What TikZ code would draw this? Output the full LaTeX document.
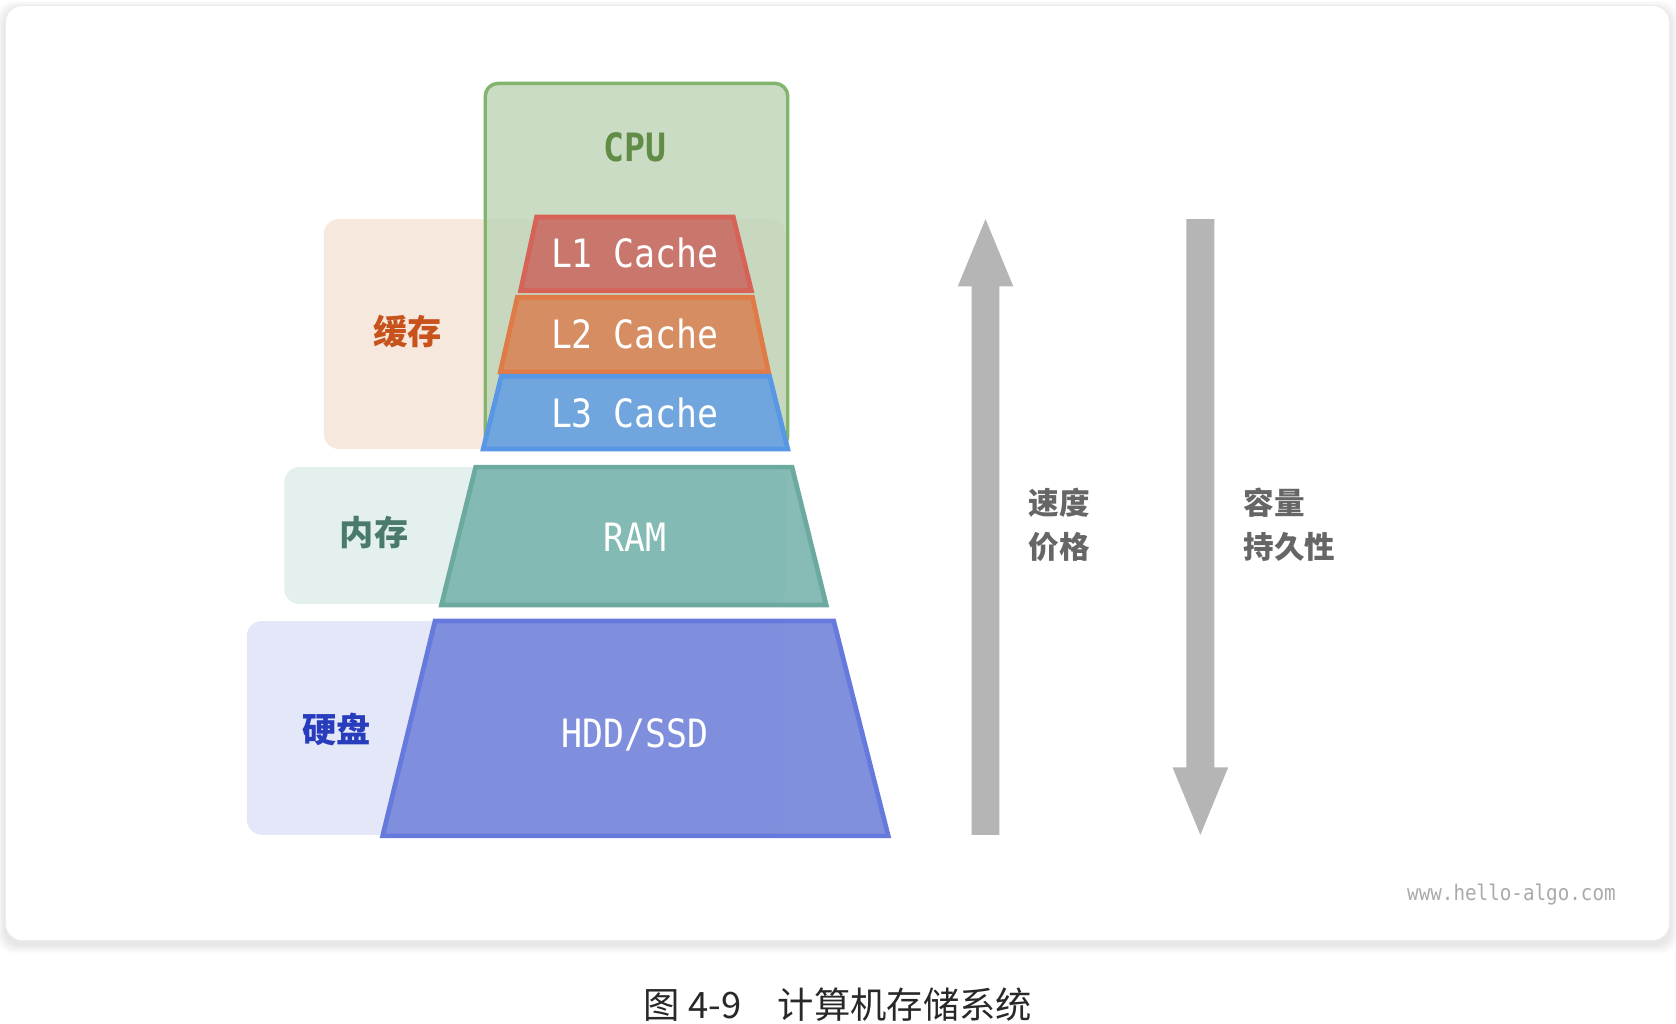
\documentclass[tikz,border=0pt]{standalone}
\usepackage{fontspec}
\newfontfamily\cjk{Noto Sans CJK SC}
\newfontfamily\monof{DejaVu Sans Mono}
\definecolor{cpufill}{RGB}{193,214,186}
\definecolor{cpuline}{RGB}{130,180,108}
\definecolor{cputext}{RGB}{96,140,70}
\definecolor{peach}{RGB}{246,232,221}
\definecolor{tealbg}{RGB}{227,240,238}
\definecolor{lavbg}{RGB}{228,231,247}
\definecolor{lAfill}{RGB}{201,118,108}
\definecolor{lAline}{RGB}{214,98,88}
\definecolor{lBfill}{RGB}{214,141,98}
\definecolor{lBline}{RGB}{224,122,70}
\definecolor{lCfill}{RGB}{112,166,221}
\definecolor{lCline}{RGB}{88,150,230}
\definecolor{ramfill}{RGB}{124,182,176}
\definecolor{ramline}{RGB}{108,170,160}
\definecolor{hddfill}{RGB}{119,135,219}
\definecolor{hddline}{RGB}{102,122,222}
\definecolor{cachetext}{RGB}{200,82,28}
\definecolor{memtext}{RGB}{74,122,110}
\definecolor{disktext}{RGB}{40,60,190}
\definecolor{graytext}{RGB}{102,102,102}
\definecolor{arrowgray}{RGB}{181,181,181}
\definecolor{marktext}{RGB}{170,170,170}
\definecolor{captext}{RGB}{40,40,40}
\definecolor{cardline}{RGB}{236,236,236}
\newcommand{\tallt}[1]{\scalebox{1}[1.12]{#1}}
\tikzset{
  trap/.style={line width=2.2pt, line join=miter},
  monolabel/.style={font=\monof\fontsize{16.3}{18}\selectfont, text=white, inner sep=0pt},
  cjklabel/.style={font=\cjk\bfseries\fontsize{16}{18}\selectfont, inner sep=0pt},
  sidelabel/.style={font=\cjk\bfseries\fontsize{14.3}{16}\selectfont, text=graytext, inner sep=0pt, anchor=west},
  bgbox/.style={rounded corners=7pt},
}
\begin{document}
\begin{tikzpicture}[x=0.5pt,y=-0.5pt]
\useasboundingbox (0,0) rectangle (1568,958);
% card shadow
\foreach \i in {1,...,8}
  \fill[black,opacity=0.012,rounded corners=8pt] (5-\i,5-\i+4) rectangle (1562+\i,880+\i+4);
\fill[white,draw=cardline,line width=0.5pt,rounded corners=8pt] (5,5) rectangle (1562,880);
% background group boxes
\fill[peach,bgbox] (303,205) rectangle (735,420);
\fill[tealbg,bgbox] (266,437) rectangle (735,565);
\fill[lavbg,bgbox] (231,581) rectangle (735,781);
% CPU box
\filldraw[fill=cpufill,fill opacity=0.85,draw=cpuline,line width=1.6pt,rounded corners=6pt] (454,78) rectangle (737,420);
% trapezoids
\filldraw[trap,fill=lAfill,draw=lAline] (502,203) -- (686,203) -- (703,272) -- (487,272) -- cycle;
\filldraw[trap,fill=lBfill,draw=lBline] (484,278) -- (704,278) -- (719,348) -- (468,348) -- cycle;
\filldraw[trap,fill=lCfill,draw=lCline] (469,352) -- (720,352) -- (737,420) -- (452,420) -- cycle;
\filldraw[trap,fill=ramfill,fill opacity=0.92,draw=ramline] (445,437) -- (741,437) -- (773,566) -- (413,566) -- cycle;
\filldraw[trap,fill=hddfill,fill opacity=0.92,draw=hddline] (407,581) -- (780,581) -- (831,782) -- (358,782) -- cycle;
% labels
\node[font=\monof\bfseries\fontsize{16.3}{18}\selectfont, text=cputext, inner sep=0pt] (cpu) at (594,138) {\tallt{CPU}};
\node[monolabel] (l1) at (594,237) {\tallt{L1 Cache}};
\node[monolabel] (l2) at (594,312) {\tallt{L2 Cache}};
\node[monolabel] (l3) at (594,386) {\tallt{L3 Cache}};
\node[monolabel] (ram) at (594,503) {\tallt{RAM}};
\node[monolabel] (hdd) at (594,687) {\tallt{HDD/SSD}};
\node[cjklabel,text=cachetext] (cache) at (381,310) {缓存};
\node[cjklabel,text=memtext] (mem) at (350,498) {内存};
\node[cjklabel,text=disktext] (disk) at (315,682) {硬盘};
% arrows
\fill[arrowgray] (909,781) -- (909,268) -- (896,268) -- (922,205) -- (948,268) -- (935,268) -- (935,781) -- cycle;
\fill[arrowgray] (1110,205) -- (1136,205) -- (1136,718) -- (1149,718) -- (1123,781) -- (1097,718) -- (1110,718) -- cycle;
\node[sidelabel] (speed) at (962,470) {速度};
\node[sidelabel] (price) at (962,512) {价格};
\node[sidelabel] (cap) at (1163,470) {容量};
\node[sidelabel] (dur) at (1163,512) {持久性};
% watermark
\node[font=\monof\fontsize{9}{10}\selectfont, text=marktext, anchor=east, inner sep=0pt] (mark) at (1512,837) {\tallt{www.hello-algo.com}};
% caption
\node[font=\cjk\fontsize{17}{19}\selectfont, text=captext, inner sep=0pt] (caption) at (784,940) {图 4-9\hspace{1em}计算机存储系统};
\end{tikzpicture}
\end{document}
